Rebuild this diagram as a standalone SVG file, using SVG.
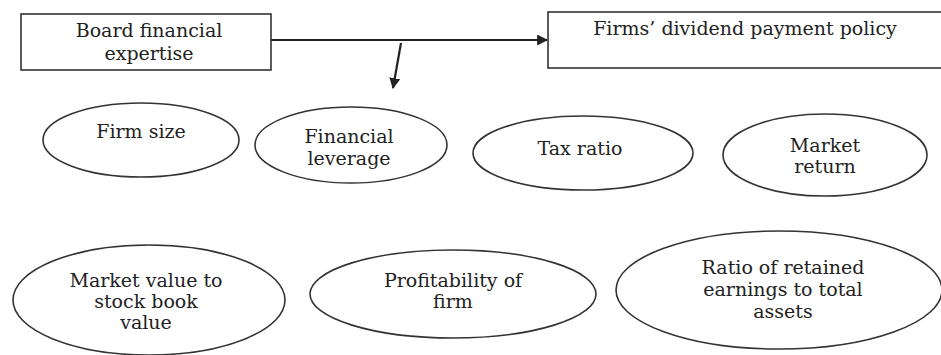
<svg xmlns="http://www.w3.org/2000/svg" width="941" height="355" viewBox="0 0 941 355">
<defs>
<style>
.box{fill:#fff;stroke:#333;stroke-width:1.6}
.ell{fill:#fff;stroke:#333;stroke-width:1.6}
.t{font-family:"DejaVu Serif","Liberation Serif",serif;font-size:19px;fill:#222;text-anchor:middle}
.con{stroke:#222;stroke-width:2.2;fill:none}
</style>
<marker id="ah" viewBox="0 0 10 10" refX="9" refY="5" markerWidth="5" markerHeight="5" orient="auto" markerUnits="strokeWidth">
<path d="M0,0 L10,5 L0,10 z" fill="#222"/>
</marker>
</defs>
<rect width="941" height="355" fill="#fff"/>
<g id="connectors">
<line class="con" x1="271" y1="40" x2="547" y2="40" marker-end="url(#ah)"/>
<line class="con" x1="401" y1="43" x2="393" y2="88" marker-end="url(#ah)"/>
</g>
<g id="board">
<rect class="box" x="21" y="14" width="250" height="56"/>
<text class="t" x="149" y="37">Board financial</text>
<text class="t" x="149" y="60">expertise</text>
</g>
<g id="dividend">
<rect class="box" x="548" y="12" width="400" height="56"/>
<text class="t" x="745" y="35">Firms’ dividend payment policy</text>
</g>
<g id="firmsize">
<ellipse class="ell" cx="141" cy="140" rx="98" ry="37"/>
<text class="t" x="141" y="138">Firm size</text>
</g>
<g id="leverage">
<ellipse class="ell" cx="351" cy="145" rx="96" ry="38"/>
<text class="t" x="349" y="143">Financial</text>
<text class="t" x="349" y="165">leverage</text>
</g>
<g id="tax">
<ellipse class="ell" cx="583" cy="153" rx="110" ry="37"/>
<text class="t" x="580" y="155">Tax ratio</text>
</g>
<g id="market">
<ellipse class="ell" cx="825" cy="155" rx="102" ry="41"/>
<text class="t" x="825" y="152">Market</text>
<text class="t" x="825" y="173">return</text>
</g>
<g id="mvbv">
<ellipse class="ell" cx="149" cy="300" rx="136" ry="55"/>
<text class="t" x="146" y="287">Market value to</text>
<text class="t" x="146" y="308">stock book</text>
<text class="t" x="146" y="329">value</text>
</g>
<g id="profit">
<ellipse class="ell" cx="453" cy="294" rx="143" ry="44"/>
<text class="t" x="453" y="287">Profitability of</text>
<text class="t" x="453" y="308">firm</text>
</g>
<g id="retained">
<ellipse class="ell" cx="779" cy="290" rx="163" ry="59"/>
<text class="t" x="783" y="274">Ratio of retained</text>
<text class="t" x="783" y="296">earnings to total</text>
<text class="t" x="783" y="318">assets</text>
</g>
</svg>
